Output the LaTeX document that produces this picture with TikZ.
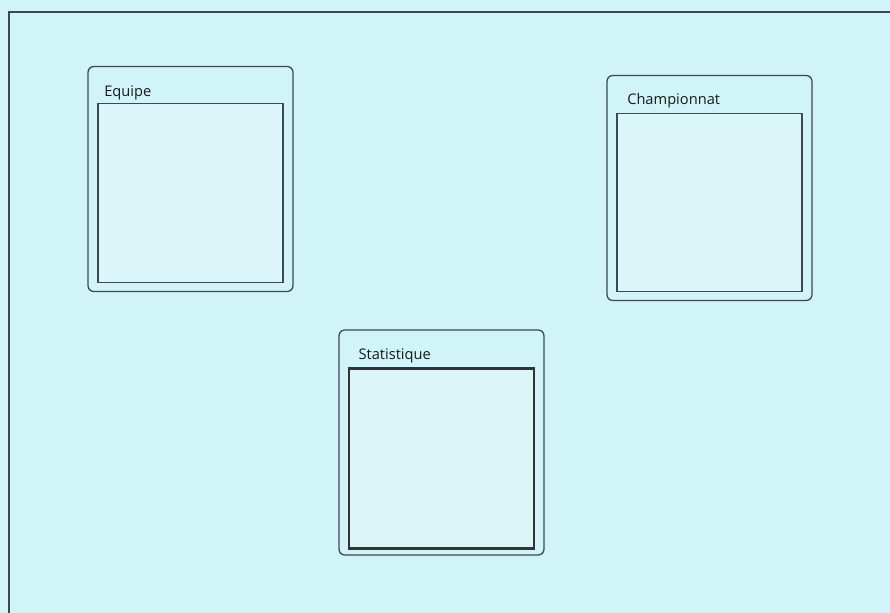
\documentclass[tikz,border=0pt]{standalone}
\usepackage{fontspec}
\newfontfamily\uifont{Open Sans}
\usepackage{tikz}
\usetikzlibrary{positioning}
\definecolor{screen}{RGB}{209,244,248}
\definecolor{edge}{RGB}{62,72,78}

\begin{document}
\begin{tikzpicture}[
  x=0.03cm, y=-0.03cm,
  node distance=0.58cm and 0.5cm,
  table/.style={draw=edge, rounded corners=5pt, line width=1.1pt,
                minimum width=6.15cm, minimum height=6.75cm, fill=screen},
  title/.style={inner sep=0pt, font=\uifont\fontsize{12.5}{14}\selectfont,
                text=black!90},
  list/.style={draw=edge, line width=1.1pt, minimum width=5.55cm,
               minimum height=5.35cm, fill=screen!80!white},
  sel/.style={list, line width=2.2pt, draw=black!80},
]
% screen and frame
\fill[screen] (0,0) rectangle (890,613);
\useasboundingbox (0,0) rectangle (890,613);
\draw[edge, line width=1.3pt] (9,613) -- (9,12) -- (890,12);

% tables
\node[table] (eq) at (190.5,179) {};
\node[title, below right=of eq.north west, anchor=north west] (eqt) {Equipe};
\node[list, above=0.28cm of eq.south, anchor=south] (eql) {};

\node[table] (ch) at (709.5,188) {};
\node[title, below right=0.55cm and 0.62cm of ch.north west, anchor=north west] (cht) {Championnat};
\node[list, above=0.27cm of ch.south, anchor=south] (chl) {};

\node[table] (st) at (441.5,442.5) {};
\node[title, below right=0.56cm and 0.6cm of st.north west, anchor=north west] (stt) {Statistique};
\node[sel, above=0.18cm of st.south, anchor=south, minimum height=5.4cm] (stl) {};
\end{tikzpicture}
\end{document}
